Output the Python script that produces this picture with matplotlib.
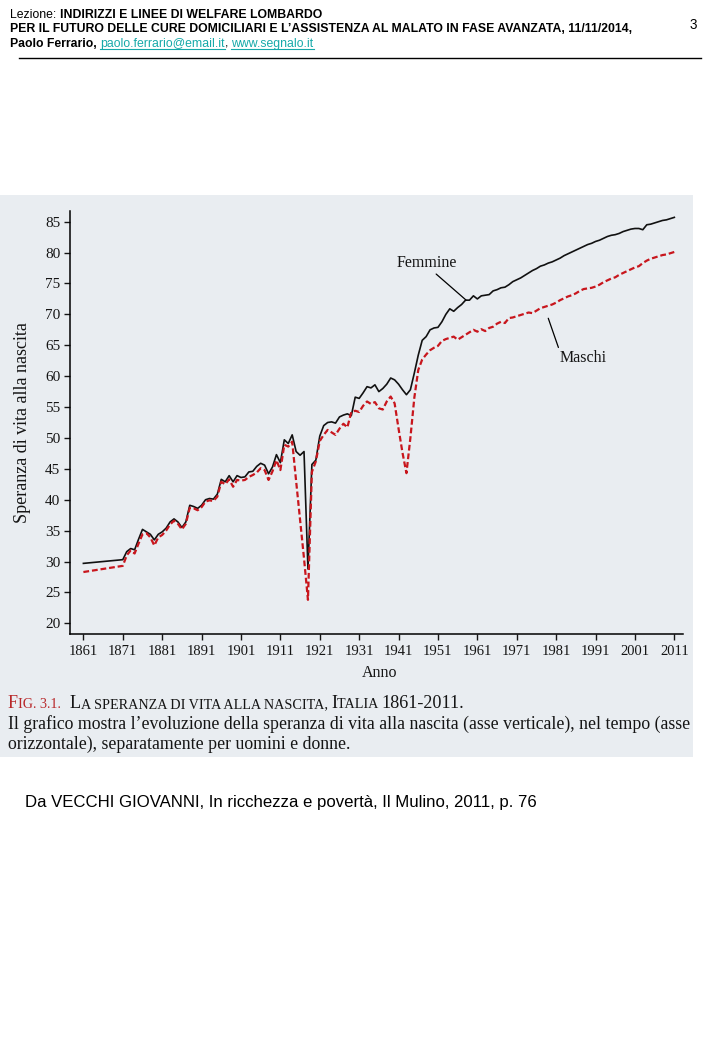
import matplotlib
matplotlib.use("Agg")
import matplotlib.pyplot as plt
from matplotlib.patches import Rectangle
from matplotlib.lines import Line2D

# ---------------- data ----------------
years = [1861, 1871] + list(range(1872, 2012))

femmine = [
    29.7, 30.3,
    31.6, 32.1, 31.9, 33.6, 35.2, 34.8, 34.4, 33.5, 34.4,            # 1872-1880
    34.8, 35.4, 36.4, 36.9, 36.4, 35.5, 36.4, 39.1, 38.9, 38.6,      # 1881-1890
    39.1, 40.0, 40.2, 40.1, 40.9, 43.3, 42.9, 43.9, 42.9, 43.9,      # 1891-1900
    43.6, 43.7, 44.5, 44.6, 45.4, 45.9, 45.6, 44.2, 45.3, 47.3,      # 1901-1910
    46.0, 49.7, 49.1, 50.5, 47.8, 47.2, 47.8, 28.8, 45.7, 46.4,      # 1911-1920
    50.3, 52.0, 52.5, 52.6, 52.4, 53.4, 53.7, 53.9, 53.6, 56.6,      # 1921-1930
    56.4, 57.3, 58.3, 58.1, 58.6, 57.5, 58.0, 58.7, 59.7, 59.4,      # 1931-1940
    58.7, 57.8, 57.0, 57.8, 60.5, 63.4, 65.8, 66.4, 67.5, 67.8,      # 1941-1950
    67.9, 68.8, 70.0, 70.9, 70.5, 71.1, 71.6, 72.3, 72.3, 73.0,      # 1951-1960
    72.5, 73.0, 73.1, 73.2, 73.8, 74.0, 74.3, 74.4, 74.8, 75.3,      # 1961-1970
    75.6, 75.9, 76.3, 76.7, 77.1, 77.4, 77.8, 78.0, 78.3, 78.5,      # 1971-1980
    78.8, 79.1, 79.5, 79.8, 80.1, 80.4, 80.7, 81.0, 81.3, 81.5,      # 1981-1990
    81.8, 82.0, 82.3, 82.6, 82.8, 82.9, 83.1, 83.4, 83.6, 83.8,      # 1991-2000
    83.9, 83.9, 83.7, 84.5, 84.6, 84.8, 85.0, 85.2, 85.3, 85.5,      # 2001-2010
    85.7,                                                            # 2011
]

maschi = [
    28.3, 29.3,
    31.0, 31.8, 31.3, 32.9, 34.4, 34.6, 33.9, 32.6, 33.9,            # 1872-1880
    34.3, 35.0, 36.0, 36.6, 36.1, 35.2, 36.1, 38.7, 38.6, 38.3,      # 1881-1890
    38.8, 39.7, 39.9, 39.8, 40.5, 42.9, 42.5, 43.3, 42.1, 43.2,      # 1891-1900
    43.1, 43.2, 43.7, 44.0, 44.4, 45.1, 44.8, 43.2, 44.6, 46.4,      # 1901-1910
    44.8, 48.9, 48.6, 49.4, 43.0, 36.8, 30.5, 23.8, 44.5, 46.2,      # 1911-1920
    49.5, 50.5, 51.3, 50.9, 50.5, 51.5, 52.3, 51.7, 54.2, 54.4,      # 1921-1930
    54.2, 55.2, 55.9, 55.5, 55.8, 54.8, 54.6, 55.9, 56.7, 55.6,      # 1931-1940
    51.5, 47.6, 44.3, 50.0, 56.5, 61.0, 62.7, 63.5, 64.2, 64.6,      # 1941-1950
    64.9, 65.7, 66.0, 66.2, 66.4, 65.9, 66.3, 66.7, 67.1, 67.5,      # 1951-1960
    67.2, 67.6, 67.3, 67.8, 68.0, 68.5, 68.8, 68.6, 69.4, 69.5,      # 1961-1970
    69.7, 69.9, 70.1, 70.3, 70.2, 70.6, 71.0, 71.2, 71.4, 71.6,      # 1971-1980
    71.9, 72.3, 72.6, 72.9, 73.1, 73.4, 73.8, 74.1, 74.2, 74.3,      # 1981-1990
    74.5, 74.8, 75.2, 75.5, 75.8, 76.0, 76.4, 76.7, 77.0, 77.3,      # 1991-2000
    77.6, 77.8, 78.3, 78.7, 79.0, 79.2, 79.4, 79.6, 79.7, 79.9,      # 2001-2010
    80.1,                                                            # 2011
]

y_ticks = list(range(20, 90, 5))
x_ticks = list(range(1861, 2012, 10))

# ---------------- figure ----------------
W, H, DPI = 720, 1040, 100
fig = plt.figure(figsize=(W / DPI, H / DPI), dpi=DPI)
fig.patch.set_facecolor("white")

def fx(px):
    return px / W

def fy(py):
    return 1 - py / H

SERIF = "Liberation Serif"
SANS = "Liberation Sans"
TEAL = "#16a9a9"
RED = "#b8282a"
INK = "#151515"

# scanned page background
fig.add_artist(Rectangle((0, fy(757)), fx(693), (757 - 195) / H,
                         transform=fig.transFigure, facecolor="#e9edf1",
                         edgecolor="none", zorder=0))

ax = fig.add_axes([fx(70), fy(634), (683 - 70) / W, (634 - 211) / H])
ax.patch.set_visible(False)
ax.plot(years, femmine, color="#111111", lw=1.2, zorder=3)
ax.plot(years, maschi, color="#c8161d", lw=1.6, linestyle=(0, (2.6, 1.3)), zorder=4)
ax.set_xlim(1857.6, 2013.2)
ax.set_ylim(18.27, 86.73)
ax.set_xticks(x_ticks)
ax.set_yticks(y_ticks)
for s in ["top", "right"]:
    ax.spines[s].set_visible(False)
for s in ["left", "bottom"]:
    ax.spines[s].set_linewidth(1.1)
ax.tick_params(direction="out", length=4, width=1, labelsize=10.5, colors=INK)
ax.tick_params(axis="y", pad=3, labelsize=11)
ax.tick_params(axis="x", pad=4)
for lab in ax.get_xticklabels() + ax.get_yticklabels():
    lab.set_fontfamily(SERIF)
ax.set_ylabel("Speranza di vita alla nascita", fontfamily=SERIF, fontsize=13, va="center", color=INK)
ax.yaxis.set_label_coords((23 - 70) / 613, 0.5)
ax.set_xlabel("Anno", fontfamily=SERIF, fontsize=11.5, va="center", color=INK)
ax.xaxis.set_label_coords((380 - 70) / 613, -(673 - 634) / 423)

ax.annotate("Femmine", xy=(1958.1, 72.33), xytext=(1948.2, 78.27),
            ha="center", va="center", fontfamily=SERIF, fontsize=11.5, color=INK,
            arrowprops=dict(arrowstyle="-", color="black", lw=0.9,
                            relpos=(0.6, 0.0), shrinkA=0, shrinkB=0))
ax.annotate("Maschi", xy=(1979.0, 69.37), xytext=(1987.8, 62.9),
            ha="center", va="center", fontfamily=SERIF, fontsize=11.5, color=INK,
            arrowprops=dict(arrowstyle="-", color="black", lw=0.9,
                            relpos=(0.0, 1.0), shrinkA=0, shrinkB=0))

# ---------------- text helpers ----------------
fig.canvas.draw()
R = fig.canvas.get_renderer()

def width_of(txt, **props):
    t = fig.text(0, 0, txt + "|", **props)
    w1 = t.get_window_extent(R).width
    t.set_text("|")
    w2 = t.get_window_extent(R).width
    t.remove()
    return w1 - w2

def runs(x, base_y, parts):
    for txt, props, ul in parts:
        fig.text(fx(x), fy(base_y), txt, va="baseline", ha="left", **props)
        w = width_of(txt, **props)
        if ul:
            fig.add_artist(Line2D([fx(x), fx(x + w)], [fy(base_y + 1.8)] * 2,
                                  color=props.get("color", "black"), lw=0.8,
                                  transform=fig.transFigure))
        x += w
    return x

def fit_size(txt, target, **props):
    w = width_of(txt, fontsize=10, **props)
    return 10 * target / w

# ---------------- header ----------------
line2 = "PER IL FUTURO DELLE CURE DOMICILIARI E L\u2019ASSISTENZA AL MALATO IN FASE AVANZATA, 11/11/2014,"
hs = fit_size(line2, 619, family=SANS, weight="bold")
reg = dict(family=SANS, fontsize=hs, color="black")
bold = dict(family=SANS, fontsize=hs, color="black", weight="bold")
link = dict(family=SANS, fontsize=hs, color=TEAL)
runs(10, 17.5, [("Lezione: ", reg, False),
                ("INDIRIZZI E LINEE DI WELFARE LOMBARDO", bold, False)])
runs(10, 32, [(line2, bold, False)])
runs(10, 47, [("Paolo Ferrario, ", bold, False),
              ("paolo.ferrario@email.it", link, True),
              (", ", reg, False),
              ("www.segnalo.it", link, True)])
fig.text(fx(693), fy(25), "3", family=SANS, fontsize=hs * 1.1, ha="center", va="center")
fig.add_artist(Line2D([fx(19), fx(701)], [fy(58)] * 2, color="black", lw=1.0,
                      transform=fig.transFigure))

# ---------------- caption ----------------
cap1 = "Il grafico mostra l\u2019evoluzione della speranza di vita alla nascita (asse verticale), nel tempo (asse"
cs = fit_size(cap1, 684, family=SERIF)
cap = dict(family=SERIF, fontsize=cs, color=INK)
fig.text(fx(8), fy(729), cap1, va="baseline", ha="left", **cap)
fig.text(fx(8), fy(749), "orizzontale), separatamente per uomini e donne.", va="baseline", ha="left", **cap)

# small-caps title line, scaled to the width it takes in the page
sc_spec = [("F", 1.0, RED), ("IG. 3.1.", 0.78, RED), ("  L", 1.0, INK),
           ("A SPERANZA DI VITA ALLA NASCITA, ", 0.78, INK), ("I", 1.0, INK),
           ("TALIA ", 0.78, INK), ("1861-2011.", 1.0, INK)]
base_w = sum(width_of(t, family=SERIF, fontsize=10 * k) for t, k, c in sc_spec)
big = 10 * 457 / base_w
sc_parts = [(t, dict(family=SERIF, fontsize=big * k, color=c), False) for t, k, c in sc_spec]
runs(8, 708.5, sc_parts)

# ---------------- source line ----------------
src = "Da VECCHI GIOVANNI, In ricchezza e povert\u00e0, Il Mulino, 2011, p. 76"
ss = fit_size(src, 510, family=SANS)
fig.text(fx(25), fy(807.5), src, family=SANS, fontsize=ss, va="baseline", ha="left")

fig.savefig("out.png", dpi=DPI, facecolor="white")
